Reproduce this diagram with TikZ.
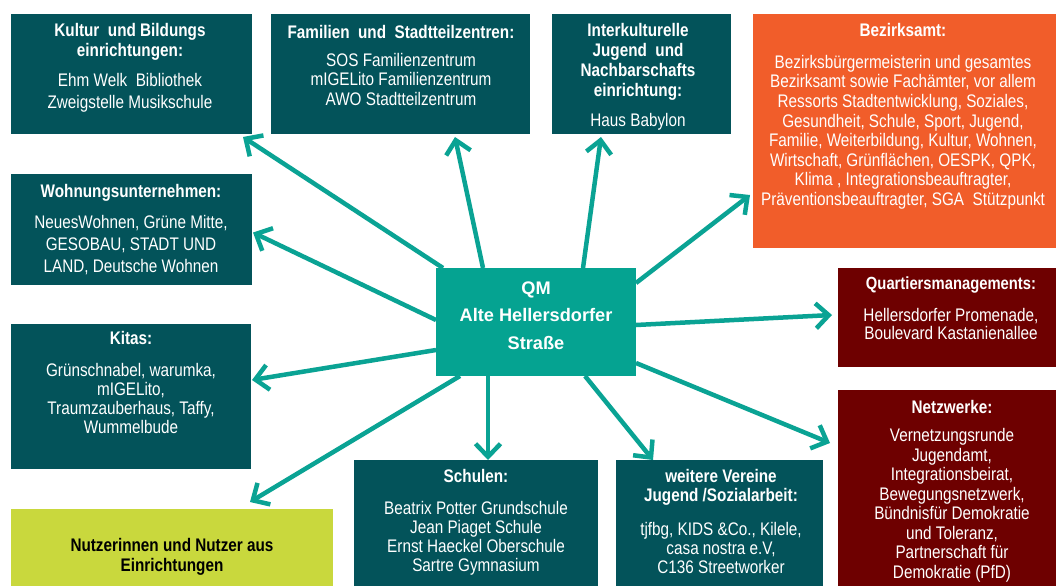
\documentclass[tikz,border=0pt]{standalone}
\usepackage{fontspec}
\setmainfont{Liberation Sans}[FakeStretch=0.84]
\newfontfamily\widefont{Liberation Sans}
\usetikzlibrary{arrows.meta,calc}
\definecolor{dteal}{HTML}{03535A}
\definecolor{qteal}{HTML}{05A391}
\definecolor{orng}{HTML}{F15D2A}
\definecolor{dred}{HTML}{6E0000}
\definecolor{lime}{HTML}{C9D83D}
\definecolor{arr}{HTML}{0AA394}
\newcommand\fsz[1]{\fontsize{18.2}{#1}\selectfont}
\begin{document}
\begin{tikzpicture}[x=1pt,y=-1pt,
  box/.style={draw=none,inner sep=0pt,outer sep=0pt,rectangle},
  txt/.style={inner sep=0pt,outer sep=0pt,align=center,text=white,anchor=north},
  conn/.style={draw=arr,line width=4.5pt,-{Straight Barb[length=13pt,width=25pt]}}]
\useasboundingbox (0,0) rectangle (1056,586);
\fill[white] (0,0) rectangle (1056,586);
% boxes
\node[box,fill=dteal,minimum width=241,minimum height=120] (kul) at (131.5,74) {};
\node[box,fill=dteal,minimum width=259,minimum height=120] (fam) at (400.5,74) {};
\node[box,fill=dteal,minimum width=179,minimum height=120] (int) at (641.5,74) {};
\node[box,fill=orng,minimum width=303,minimum height=234] (bez) at (904.5,131) {};
\node[box,fill=dteal,minimum width=241,minimum height=111] (woh) at (131.5,229.5) {};
\node[box,fill=dteal,minimum width=240,minimum height=145] (kit) at (131,396.5) {};
\node[box,fill=lime,minimum width=322,minimum height=77] (nut) at (172,547.5) {};
\node[box,fill=dteal,minimum width=244,minimum height=126] (sch) at (476,523) {};
\node[box,fill=dteal,minimum width=207,minimum height=126] (wei) at (719.5,523) {};
\node[box,fill=dred,minimum width=218,minimum height=99] (qua) at (947,317.5) {};
\node[box,fill=dred,minimum width=218,minimum height=196] (net) at (947,488) {};
\node[box,fill=qteal,minimum width=200,minimum height=108] (qm) at (536,322) {};
% texts
\node[txt,font=\fsz{19.5}] (kult) at (130,23.5) {\textbf{Kultur\ \ und Bildungs}\\\textbf{einrichtungen:}\\[11pt]Ehm Welk\ \ Bibliothek\\[2pt]Zweigstelle Musikschule};
\node[txt,font=\fsz{19.5}] (famt) at (401,25.5) {\textbf{Familien\ \ und\ \ Stadtteilzentren:}\\[8pt]SOS Familienzentrum\\mIGELito Familienzentrum\\AWO Stadtteilzentrum};
\node[txt,font=\fsz{19.8}] (intt) at (638,23.5) {\textbf{Interkulturelle}\\\textbf{Jugend\ \ und}\\\textbf{Nachbarschafts}\\\textbf{einrichtung:}\\[11pt]Haus Babylon};
\node[txt,font=\fsz{19.6}] (bezt) at (903,23.5) {\textbf{Bezirksamt:}\\[12pt]Bezirksbürgermeisterin und gesamtes\\Bezirksamt sowie Fachämter, vor allem\\Ressorts Stadtentwicklung, Soziales,\\Gesundheit, Schule, Sport, Jugend,\\Familie, Weiterbildung, Kultur, Wohnen,\\Wirtschaft, Grünflächen, OESPK, QPK,\\Klima , Integrationsbeauftragter,\\Präventionsbeauftragter, SGA\ \ Stützpunkt};
\node[txt,font=\fsz{22}] (woht) at (131,184.5) {\textbf{Wohnungsunternehmen:}\\[8.7pt]NeuesWohnen, Grüne Mitte,\\GESOBAU, STADT UND\\LAND, Deutsche Wohnen};
\node[txt,font=\fsz{19}] (kitt) at (131,331.5) {\textbf{Kitas:}\\[13pt]Grünschnabel, warumka,\\mIGELito,\\Traumzauberhaus, Taffy,\\Wummelbude};
\node[txt,font=\fsz{20},text=black] (nutt) at (172,538.5) {\textbf{Nutzerinnen und Nutzer aus}\\\textbf{Einrichtungen}};
\node[txt,font=\fsz{19}] (scht) at (476,469.5) {\textbf{Schulen:}\\[13pt]Beatrix Potter Grundschule\\Jean Piaget Schule\\Ernst Haeckel Oberschule\\Sartre Gymnasium};
\node[txt,font=\fsz{19}] (weit) at (721,469.5) {\textbf{weitere Vereine}\\\textbf{Jugend /Sozialarbeit:}\\[15pt]tjfbg, KIDS \&Co., Kilele,\\casa nostra e.V,\\C136 Streetworker};
\node[txt,font=\fsz{18.5}] (quat) at (951,277) {\textbf{\fontsize{17.6}{18.5}\selectfont Quartiersmanagements:}\\[13pt]Hellersdorfer Promenade,\\Boulevard Kastanienallee};
\node[txt,font=\fsz{19.5}] (nett) at (952,400.2) {\textbf{Netzwerke:}\\[9pt]Vernetzungsrunde\\Jugendamt,\\Integrationsbeirat,\\Bewegungsnetzwerk,\\Bündnisfür Demokratie\\und Toleranz,\\Partnerschaft für\\Demokratie (PfD)};
\node[txt,font=\widefont\fontsize{18.2}{27.5}\selectfont] (qmt) at (536,281.5) {\textbf{QM}\\\textbf{Alte Hellersdorfer}\\\textbf{Straße}};
% connectors
\draw[conn] ($(qm.north west)+(7,0)$) -- ($(kul.south east)+(-9,3)$);
\draw[conn] ($(qm.north west)+(47,0)$) -- ($(fam.south)+(54.5,3)$);
\draw[conn] ($(qm.north west)+(147,0)$) -- ($(int.south)+(-40.5,3)$);
\draw[conn] ($(qm.north east)+(0,15)$) -- ($(bez.south west)+(-3,-53)$);
\draw[conn] ($(qm.west)+(0,-2)$) -- ($(woh.east)+(1,3)$);
\draw[conn] ($(qm.east)+(0,3)$) -- ($(qua.west)+(-6,-2.5)$);
\draw[conn] ($(qm.west)+(0,28)$) -- ($(kit.north east)+(1,56)$);
\draw[conn] ($(qm.south west)+(24,0)$) -- ($(nut.north)+(78,-7)$);
\draw[conn] ($(qm.south west)+(52,0)$) -- ($(sch.north)+(12,0)$);
\draw[conn] ($(qm.south west)+(149,0)$) -- ($(wei.north)+(-66.5,0)$);
\draw[conn] ($(qm.south east)+(0,-13)$) -- ($(net.west)+(-8,-45)$);
\end{tikzpicture}
\end{document}
